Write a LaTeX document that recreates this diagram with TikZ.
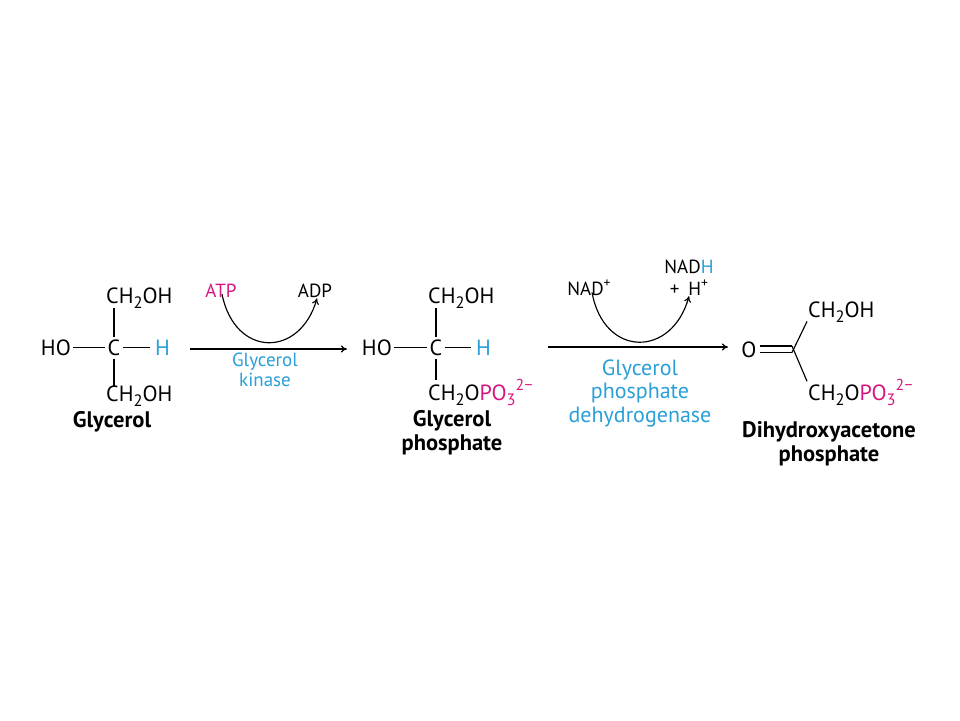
\documentclass[tikz,border=0pt]{standalone}
\usepackage{fontspec}
\usepackage{graphicx}
\setmainfont{PT Sans}
\usetikzlibrary{arrows.meta}
\definecolor{mag}{HTML}{D6177F}
\definecolor{cyanb}{HTML}{2A9FD8}
\newcommand\chsub[1]{\raisebox{-0.24em}{\scalebox{0.75}{#1}}}
\newcommand\chsup[1]{\raisebox{0.42em}{\scalebox{0.72}{#1}}}
\tikzset{
  chem/.style={inner sep=0pt, font=\fontsize{22}{26}\selectfont},
  small/.style={inner sep=0pt, font=\fontsize{19}{22}\selectfont},
  title/.style={inner sep=0pt, font=\fontsize{22.5}{24}\bfseries\selectfont, align=center},
  kin/.style={inner sep=0pt, text=cyanb, font=\fontsize{19}{20}\selectfont, align=center},
  dehyd/.style={inner sep=0pt, text=cyanb, font=\fontsize{22}{23.5}\selectfont, align=center},
  bond/.style={line width=1.15pt},
  rxn/.style={line width=1.15pt, -{To[length=6pt,width=7pt]}},
}
\begin{document}
\begin{tikzpicture}[x=1pt,y=-1pt]
\useasboundingbox[fill=white] (0,0) rectangle (960,720);
% ---- Glycerol
\node[chem,anchor=base] (c1) at (114,355) {C};
\node[chem,anchor=base west] (t1) at (106,303) {CH\chsub{2}OH};
\node[chem,anchor=base west] (b1) at (106,401) {CH\chsub{2}OH};
\node[chem,anchor=base east] (ho1) at (71,355) {HO};
\node[chem,anchor=base west,text=cyanb] (h1) at (155,355) {H};
\draw[bond] (c1.north) ++(0,-2) coordinate (c1n) -- (c1n |- t1.south);
\draw[bond] (c1.south) ++(0,4) coordinate (c1s) -- ([yshift=-1]c1s |- b1.north);
\draw[bond] ([xshift=2]ho1.east |- c1) -- ([xshift=-3]c1.west);
\draw[bond] ([xshift=3]c1.east) -- ([xshift=-5]h1.west |- c1);
\node[title] (n1) at (112,422) {Glycerol};
% ---- Arrow 1
\coordinate (a1s) at (190,349);
\coordinate (a1e) at (347,349);
\draw[rxn] (a1s) -- (a1e);
\node[small,anchor=base,text=mag] (atp) at (221,297) {ATP};
\node[small,anchor=base] (adp) at (315,297) {ADP};
\draw[bond,-{To[length=6pt,width=7pt]}] ([xshift=1,yshift=3]atp.south) .. controls (235,358) and (300,358) .. ([xshift=2,yshift=-1]adp.south);
\node[kin] (k1) at (265,370) {Glycerol\\kinase};
% ---- Glycerol phosphate
\node[chem,anchor=base] (c2) at (436,355) {C};
\node[chem,anchor=base west] (t2) at (428,303) {CH\chsub{2}OH};
\node[chem,anchor=base west] (b2) at (428,400) {CH\chsub{2}O\textcolor{mag}{PO\chsub{3}\chsup{2\kern0.5pt−}}};
\node[chem,anchor=base east] (ho2) at (392,355) {HO};
\node[chem,anchor=base west,text=cyanb] (h2) at (476,355) {H};
\draw[bond] (c2.north) ++(0,-2) coordinate (c2n) -- (c2n |- t2.south);
\draw[bond] (c2.south) ++(0,4) coordinate (c2s) -- ([yshift=-1]c2s |- b2.north);
\draw[bond] ([xshift=2]ho2.east |- c2) -- ([xshift=-3]c2.west);
\draw[bond] ([xshift=3]c2.east) -- ([xshift=-5]h2.west |- c2);
\node[title] (n2) at (452,433) {Glycerol\\phosphate};
% ---- Arrow 2
\coordinate (a2s) at (548,347);
\coordinate (a2e) at (728,347);
\draw[rxn] (a2s) -- (a2e);
\node[small,anchor=base] (nad) at (589,295) {NAD\chsup{+}};
\node[small,anchor=base] (nadh) at (689,273) {NAD\textcolor{cyanb}{H}};
\node[small,anchor=base] (hp) at (689,295) {+\kern9pt H\chsup{+}};
\draw[bond,-{To[length=6pt,width=7pt]}] ([xshift=3,yshift=3]nad.south) .. controls (604,358) and (672,358) .. ([yshift=-1]hp.south);
\node[dehyd] (k2) at (640,393) {Glycerol\\phosphate\\dehydrogenase};
% ---- DHAP
\node[chem,anchor=base] (o3) at (749,357) {O};
\coordinate (v3) at (792,349);
\node[chem,anchor=base west] (t3) at (808,317) {CH\chsub{2}OH};
\node[chem,anchor=base west] (b3) at (808,400) {CH\chsub{2}O\textcolor{mag}{PO\chsub{3}\chsup{2\kern0.5pt−}}};
\draw[bond] ([xshift=3,yshift=-3.5]o3.east |- v3) -- ([yshift=-3.5]v3);
\draw[bond] ([xshift=3,yshift=3]o3.east |- v3) -- ([yshift=3]v3);
\draw[bond] ([yshift=-3.5]v3) -- ([xshift=-1,yshift=1]t3.south west);
\draw[bond] ([yshift=3]v3) -- ([xshift=-1,yshift=-2]b3.north west);
\node[title] (n3) at (829,444) {Dihydroxyacetone\\phosphate};
\end{tikzpicture}
\end{document}
